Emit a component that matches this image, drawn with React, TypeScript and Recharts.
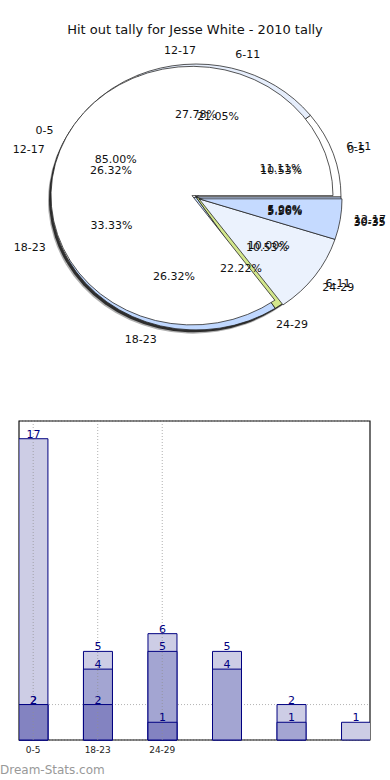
import React from "react";
import {
  PieChart,
  Pie,
  Cell,
  BarChart,
  Bar,
  XAxis,
  YAxis,
  CartesianGrid,
  ReferenceArea,
  ReferenceLine,
  LabelList,
} from "recharts";

// pie data (three tallies drawn on top of each other)
const pieANames = ["0-5", "6-11", "12-17"];
const pieAValues = [17, 2, 1];
const pieBNames = ["0-5", "6-11", "12-17", "18-23", "24-29", "30-35"];
const pieBValues = [2, 4, 5, 5, 2, 1];
const pieCNames = ["6-11", "12-17", "18-23", "24-29", "30-35"];
const pieCValues = [2, 5, 6, 4, 1];

// bar data, by rank in each column
const barX = [0, 1, 2, 3, 4, 5];
const barTicks = [0, 1, 2];
const barTickLabels = ["0-5", "18-23", "24-29"];
const barTop = [17, 5, 6, 5, 2, 1];
const barMid = [2, 4, 5, 4, 1, null];
const barLow = [2, 2, 1, null, null, null];

const FONT = "'DejaVu Sans', Verdana, sans-serif";
const SY = 0.917; // pie is squashed into an ellipse
const CX = 196;
const CY = 170;
const R = 145;
const RAD = Math.PI / 180;

const toRows = (names: string[], values: number[]) =>
  names.map((name, i) => ({ name, value: values[i] }));

const pieA = toRows(pieANames, pieAValues);
const pieB = toRows(pieBNames, pieBValues);
const pieC = toRows(pieCNames, pieCValues);

const bColors = ["#ffffff", "#e6eefc", "#ffffff", "#c0d8ff", "#d3e78c", "#c5daff"];
const aWedgeColors = ["none", "#ebf2fd", "#c5daff"];

const barData = barX.map((x, i) => ({
  x,
  top: barTop[i],
  mid: barMid[i],
  low: barLow[i],
}));

// labels: name outside, percentage inside; counter the vertical squash
const renderLabel = (p: any) => {
  const a = -p.midAngle * RAD;
  const nx = CX + 160 * Math.cos(a);
  const ny = CY + 160 * Math.sin(a);
  const px = CX + 90 * Math.cos(a);
  const py = CY + 90 * Math.sin(a);
  const fix = (x: number, y: number) =>
    `translate(${x} ${y}) scale(1 ${1 / SY}) translate(${-x} ${-y})`;
  return (
    <g>
      <text
        x={nx}
        y={ny}
        transform={fix(nx, ny)}
        textAnchor={nx > CX ? "start" : "end"}
        dominantBaseline="central"
        fontSize={11}
        fontFamily={FONT}
        fill="#111"
      >
        {p.name}
      </text>
      <text
        x={px}
        y={py}
        transform={fix(px, py)}
        textAnchor="middle"
        dominantBaseline="central"
        fontSize={11}
        fontFamily={FONT}
        fill="#111"
      >
        {(p.percent * 100).toFixed(2)}%
      </text>
    </g>
  );
};

export default function App() {
  return (
    <div
      style={{
        position: "absolute",
        left: 0,
        top: 0,
        width: 390,
        height: 780,
        background: "#fff",
        fontFamily: FONT,
      }}
    >
      <div
        style={{
          position: "absolute",
          top: 22,
          width: 390,
          textAlign: "center",
          fontSize: 13,
          color: "#111",
        }}
      >
        Hit out tally for Jesse White - 2010 tally
      </div>

      <div
        style={{
          position: "absolute",
          left: 0,
          top: 27,
          width: 390,
          height: 340,
          transform: `scaleY(${SY})`,
          transformOrigin: `${CX}px ${CY}px`,
        }}
      >
        <PieChart width={390} height={340} margin={{ top: 0, right: 0, bottom: 0, left: 0 }}>
          {/* shadow */}
          <Pie data={pieB} dataKey="value" cx={CX - 3} cy={CY + 4} outerRadius={R} fill="#b0b0b0" stroke="none" isAnimationActive={false} />
          <Pie data={pieB} dataKey="value" cx={CX - 2} cy={CY + 2.5} outerRadius={R} fill="#2e2e2e" stroke="none" isAnimationActive={false} />
          <Pie data={pieB} dataKey="value" cx={CX} cy={CY} outerRadius={R} stroke="#222" strokeWidth={0.8} isAnimationActive={false}>
            {pieB.map((d, i) => (
              <Cell key={d.name + i} fill={bColors[i]} />
            ))}
          </Pie>
          <Pie data={pieA} dataKey="value" cx={CX - 4} cy={CY - 1.5} outerRadius={R - 4} strokeWidth={0.8} isAnimationActive={false}>
            {pieA.map((d, i) => (
              <Cell key={d.name} fill={i === 0 ? "#ffffff" : "none"} stroke={i === 0 ? "#222" : "none"} />
            ))}
          </Pie>
          <Pie data={pieA} dataKey="value" cx={CX + 3} cy={CY + 2} outerRadius={R - 2} strokeWidth={0.8} isAnimationActive={false}>
            {pieA.map((d, i) => (
              <Cell key={d.name} fill={aWedgeColors[i]} stroke={i === 0 ? "none" : "#222"} />
            ))}
          </Pie>
          {/* label layers */}
          <Pie data={pieA} dataKey="value" cx={CX} cy={CY} outerRadius={R} fill="none" stroke="none" label={renderLabel} labelLine={false} isAnimationActive={false} />
          <Pie data={pieB} dataKey="value" cx={CX} cy={CY} outerRadius={R} fill="none" stroke="none" label={renderLabel} labelLine={false} isAnimationActive={false} />
          <Pie data={pieC} dataKey="value" cx={CX} cy={CY} outerRadius={R} fill="none" stroke="none" label={renderLabel} labelLine={false} isAnimationActive={false} />
        </PieChart>
      </div>

      <div style={{ position: "absolute", left: 0, top: 410, width: 390, height: 350 }}>
        <BarChart width={390} height={350} data={barData} margin={{ top: 11, right: 20, bottom: 0, left: 19 }}>
          <XAxis
            xAxisId="a"
            type="number"
            dataKey="x"
            domain={[-0.22, 5.22]}
            ticks={barTicks}
            tickFormatter={(v: number) => barTickLabels[v] ?? ""}
            allowDataOverflow
            height={20}
            tickLine={false}
            axisLine={false}
            tickMargin={1}
            tick={{ fontSize: 9, fill: "#222", fontFamily: FONT }}
          />
          <XAxis xAxisId="b" type="number" dataKey="x" domain={[-0.22, 5.22]} ticks={barX} allowDataOverflow hide />
          <XAxis xAxisId="c" type="number" dataKey="x" domain={[-0.22, 5.22]} ticks={barX} allowDataOverflow hide />
          <YAxis
            type="number"
            domain={[0, 18]}
            ticks={[0, 2]}
            width={0}
            tickLine={false}
            axisLine={false}
            tickMargin={4}
            tick={{ fontSize: 12, fill: "#222", fontFamily: FONT }}
          />
          <CartesianGrid xAxisId="a" vertical={false} strokeDasharray="1 2" stroke="#a0a0a0" strokeOpacity={0.8} />
          <Bar xAxisId="a" dataKey="top" fill="#cdcde5" stroke="#000080" strokeWidth={1} barSize={29} isAnimationActive={false}>
            <LabelList dataKey="top" position="top" offset={1} fill="#000080" fontSize={11} fontFamily={FONT} />
          </Bar>
          <Bar xAxisId="b" dataKey="mid" fill="#a3a5d2" stroke="#000080" strokeWidth={1} barSize={29} isAnimationActive={false}>
            <LabelList dataKey="mid" position="top" offset={1} fill="#000080" fontSize={11} fontFamily={FONT} />
          </Bar>
          <Bar xAxisId="c" dataKey="low" fill="#8383c1" stroke="#000080" strokeWidth={1} barSize={29} isAnimationActive={false}>
            <LabelList dataKey="low" position="top" offset={1} fill="#000080" fontSize={11} fontFamily={FONT} />
          </Bar>
          {barTicks.map((t) => (
            <ReferenceLine key={t} xAxisId="a" x={t} stroke="#909090" strokeOpacity={0.7} strokeDasharray="1 2" />
          ))}
          <ReferenceArea xAxisId="a" x1={-0.22} x2={5.22} y1={0} y2={18} fill="none" stroke="#111" strokeWidth={1.2} />
        </BarChart>
      </div>

      <div style={{ position: "absolute", left: 0, top: 763, fontSize: 12, color: "#999" }}>
        Dream-Stats.com
      </div>
    </div>
  );
}
